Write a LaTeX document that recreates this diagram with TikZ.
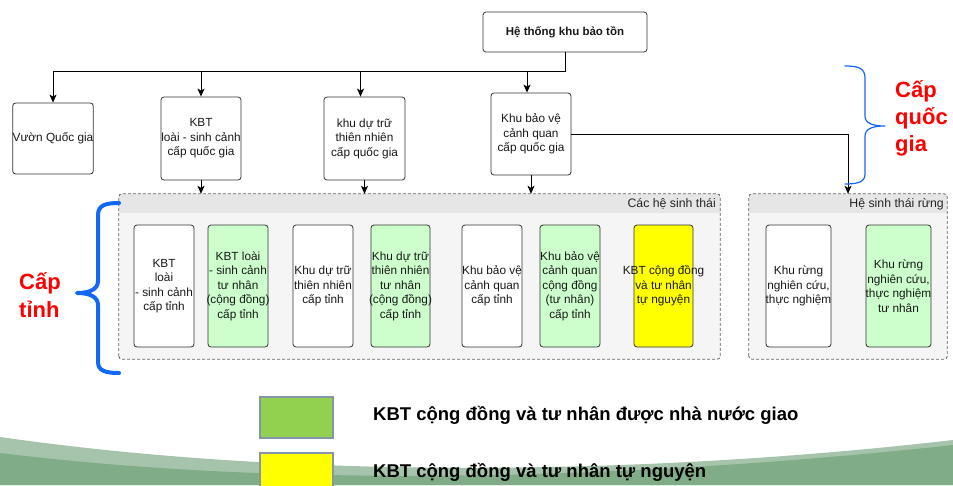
\documentclass[tikz,border=0pt]{standalone}
\usepackage{fontspec}
\setmainfont{Liberation Sans}
\usepackage{xcolor}
\usepackage{tikz}
\usetikzlibrary{arrows.meta}
\definecolor{edge}{HTML}{333333}
\definecolor{grpedge}{HTML}{666666}
\definecolor{grpbody}{HTML}{F5F5F5}
\definecolor{grphead}{HTML}{E6E6E6}
\definecolor{palegreen}{HTML}{CCFFCC}
\definecolor{hiyellow}{HTML}{FFFF00}
\definecolor{leggreen}{HTML}{92D050}
\definecolor{legedge}{HTML}{8497A8}
\definecolor{braceblue}{HTML}{1268F3}
\definecolor{lvlred}{HTML}{FF0000}
\definecolor{bandlight}{HTML}{A6C3AB}
\definecolor{banddark}{HTML}{80AD88}
\tikzset{
  conn/.style={draw=black, line width=1pt, -{Stealth[length=8pt,width=7pt,inset=2pt]}},
  topbox/.style={draw=edge, line width=0.8pt, rounded corners=3pt, fill=white, inner sep=0pt,
    align=center, text=black!90, font=\fontsize{11.8}{14.5}\selectfont},
  cellbox/.style={topbox, minimum width=60pt, minimum height=122pt},
  grpbox/.style={fill=grpbody, rounded corners=3pt, inner sep=0pt, minimum height=165pt},
  grpline/.style={draw=grpedge, line width=0.8pt, dash pattern=on 3pt off 2pt, rounded corners=3pt},
  grplab/.style={text=black!85, inner sep=0pt, font=\fontsize{12.3}{14}\selectfont},
  lvl/.style={text=lvlred, inner sep=0pt, align=left, font=\bfseries\fontsize{22}{27}\selectfont},
  brace/.style={draw=braceblue, line cap=round, line join=round},
  legbox/.style={draw=legedge, line width=2pt, minimum width=73pt, minimum height=41pt},
  legtxt/.style={inner sep=0pt, font=\bfseries\fontsize{18.5}{22}\selectfont},
}

\begin{document}
\begin{tikzpicture}[x=1pt,y=-1pt]
  \useasboundingbox (0,0) rectangle (953,485);
  \fill[white] (0,0) rectangle (953,485);

  % slide background
  \fill[bandlight] (0,437) .. controls (300,480) and (650,475) .. (953,440)
    -- (953,485) -- (0,485) -- cycle;
  \fill[banddark] (0,453) .. controls (300,490) and (650,478) .. (953,445)
    -- (953,485) -- (0,485) -- cycle;

  % national level
  \node[topbox, font=\bfseries\fontsize{11.5}{14}\selectfont, minimum width=164pt, minimum height=40pt]
    (top) at (565,32) {Hệ thống khu bảo tồn};
  \coordinate (hub) at (565,71);
  \node[topbox, minimum width=80pt, minimum height=71pt] (vqg) at (53,138.5) {Vườn Quốc gia};
  \node[topbox, minimum width=80pt, minimum height=83pt] (kbt) at (201,138.5) {KBT\\loài - sinh cảnh\\cấp quốc gia};
  \node[topbox, minimum width=81pt, minimum height=83pt] (kdt) at (364.5,138.5) {khu dự trữ\\thiên nhiên\\cấp quốc gia};
  \node[topbox, minimum width=80pt, minimum height=82pt] (kbv) at (531,134) {Khu bảo vệ\\cảnh quan\\cấp quốc gia};

  % ecosystem groups
  \node[grpbox, minimum width=601pt] (g1) at (419.5,276.5) {};
  \fill[grphead] ([yshift=-19pt]g1.north west) [rounded corners=3pt] -- (g1.north west)
    -- (g1.north east) [sharp corners] -- ([yshift=-19pt]g1.north east) -- cycle;
  \draw[grpline] (g1.south west) rectangle (g1.north east);
  \node[grplab, anchor=base east] (g1lab) at (716,207) {Các hệ sinh thái};

  \node[grpbox, minimum width=198pt] (g2) at (848,276.5) {};
  \fill[grphead] ([yshift=-19pt]g2.north west) [rounded corners=3pt] -- (g2.north west)
    -- (g2.north east) [sharp corners] -- ([yshift=-19pt]g2.north east) -- cycle;
  \draw[grpline] (g2.south west) rectangle (g2.north east);
  \node[grplab, anchor=base east] (g2lab) at (944,207) {Hệ sinh thái rừng};

  % provincial level
  \node[cellbox] (c1) at (164,286) {KBT\\loài\\- sinh cảnh\\cấp tỉnh};
  \node[cellbox, fill=palegreen] (c2) at (238,286) {KBT loài\\- sinh cảnh\\tư nhân\\\makebox[0pt]{(cộng đồng)}\\cấp tỉnh};
  \node[cellbox] (c3) at (323,286) {Khu dự trữ\\thiên nhiên\\cấp tỉnh};
  \node[cellbox, fill=palegreen, minimum width=59pt] (c4) at (400.5,286) {Khu dự trữ\\thiên nhiên\\tư nhân\\\makebox[0pt]{(cộng đồng)}\\cấp tỉnh};
  \node[cellbox] (c5) at (492,286) {\makebox[0pt]{Khu bảo vệ}\\cảnh quan\\cấp tỉnh};
  \node[cellbox, fill=palegreen] (c6) at (570,286) {\makebox[0pt]{Khu bảo vệ}\\cảnh quan\\cộng đồng\\(tư nhân)\\cấp tỉnh};
  \node[cellbox, fill=hiyellow, minimum width=59pt] (c7) at (663.5,286) {\makebox[0pt]{KBT cộng đồng}\\và tư nhân\\tự nguyện};
  \node[cellbox, minimum width=65pt] (c8) at (798.5,286) {Khu rừng\\nghiên cứu,\\\makebox[0pt]{thực nghiệm}};
  \node[cellbox, fill=palegreen, minimum width=65pt] (c9) at (898.5,286) {Khu rừng\\nghiên cứu,\\\makebox[0pt]{thực nghiệm}\\tư nhân};

  % connectors
  \draw[conn] (top.south) -- (hub) -| (vqg.north);
  \draw[conn] (hub) -| (kbt.north);
  \draw[conn] (hub) -| ([xshift=-4pt]kdt.north);
  \draw[conn] (hub) -| ([xshift=-4pt]kbv.north);
  \draw[conn] (kbt.south) -- (kbt.south |- g1.north);
  \draw[conn] (kdt.south) -- (kdt.south |- g1.north);
  \draw[conn] (kbv.south) -- (kbv.south |- g1.north);
  \draw[conn] (kbv.east) -| (g2.north);

  % level braces
  \draw[brace, line width=1.2pt] (845,66) .. controls (858,66) and (865,68) .. (865,78) -- (865,116)
    .. controls (865,123) and (872,126) .. (885,126) .. controls (872,126) and (865,129) .. (865,136)
    -- (865,174) .. controls (865,182) and (858,184) .. (845,184);
  \draw[brace, line width=4pt] (119,203) .. controls (106,203) and (98,205) .. (98,215) -- (98,281)
    .. controls (98,289) and (90,293) .. (77,293) .. controls (90,293) and (98,297) .. (98,305)
    -- (98,362) .. controls (98,371) and (106,373) .. (119,373);
  \node[lvl, anchor=north west] (natl) at (895,80) {Cấp\\quốc\\gia};
  \node[lvl, anchor=north west, font=\bfseries\fontsize{22}{28}\selectfont] (prov) at (19,272) {Cấp\\tỉnh};

  % legend
  \node[legbox, fill=leggreen] (lg1) at (296.5,417.5) {};
  \node[legbox, fill=hiyellow] (lg2) at (296.5,473.5) {};
  \node[legtxt, anchor=base west] (lg1t) at (373,420) {KBT cộng đồng và tư nhân được nhà nước giao};
  \node[legtxt, anchor=base west] (lg2t) at (373,477) {KBT cộng đồng và tư nhân tự nguyện};
\end{tikzpicture}
\end{document}
